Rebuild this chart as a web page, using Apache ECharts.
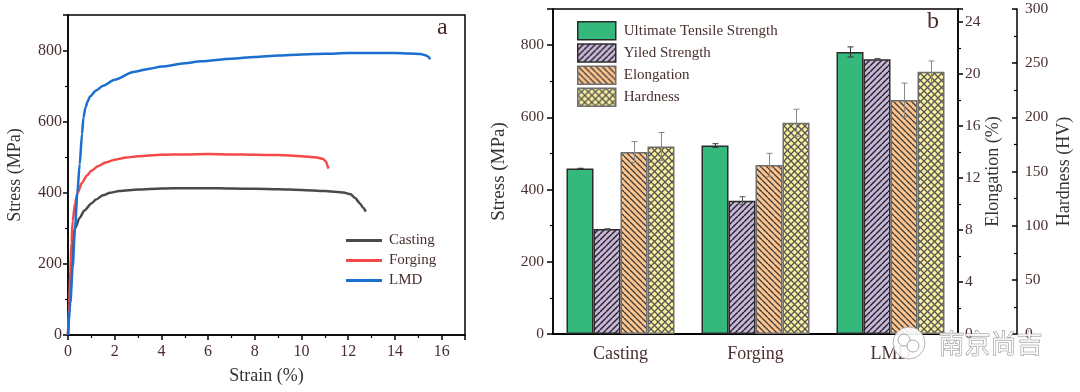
<!DOCTYPE html>
<html><head><meta charset="utf-8">
<script src="https://cdn.jsdelivr.net/npm/echarts@6/dist/echarts.min.js"></script>
<style>html,body{margin:0;padding:0;background:#fff}#c{width:1080px;height:392px}</style>
</head><body><div id="c"></div><script>
// ---- Panel a: stress-strain curves [strain %, stress MPa]
const castingCurve = [[0,0],[0.05,60],[0.1,140],[0.15,210],[0.2,260],[0.3,300],[0.5,330],[0.7,350],[1.0,370],[1.2,381],[1.5,393],[1.8,400],[2.2,405],[3,409],[4,412],[5,413],[6,413],[7,412],[8,411],[9,410],[10,408],[11,405],[11.8,401],[12.1,396],[12.3,385],[12.5,370],[12.65,357],[12.75,347]];
const forgingCurve = [[0,0],[0.05,90],[0.1,180],[0.15,260],[0.2,320],[0.3,370],[0.4,398],[0.6,428],[0.8,448],[1.0,462],[1.3,475],[1.6,485],[2,493],[2.5,499],[3,503],[4,507],[5,508],[6,509],[7,508],[8,507],[9,506],[10,503],[10.6,500],[10.9,496],[11.05,488],[11.1,478],[11.15,468]];
const lmdCurve = [[0,0],[0.1,90],[0.2,190],[0.3,300],[0.4,400],[0.5,480],[0.6,565],[0.66,611],[0.75,640],[0.85,658],[0.94,671],[1.2,688],[1.5,701],[2.0,718],[2.8,740],[3.5,749],[4,755],[5,764],[5.7,770],[7,777],[8,782],[9,786],[10,789],[11,791],[12,793],[13,793],[14,793],[14.6,792],[15.1,790],[15.3,787],[15.45,782],[15.5,775]];
const curveNames = ['Casting','Forging','LMD'];

// ---- Panel b: bar data
const categories = ['Casting','Forging','LMD'];
const barNames = ['Ultimate Tensile Strength','Yiled Strength','Elongation','Hardness'];
const utsValues = [458, 522, 781];
const utsErrors = [1, 5, 14];
const ysValues = [291, 369, 761];
const ysErrors = [0, 11, 2];
const elongValues = [14.0, 13.0, 18.0];
const elongErrors = [0.8, 0.9, 1.3];
const hardValues = [173, 195, 242];
const hardErrors = [13, 12.5, 10];

const serif = 'Liberation Serif';
const labelColor = '#4a2f2f';
const titleColor = '#333';

function makePattern(bg, color, dirs, size, lw) {
  const c = document.createElement('canvas'); c.width = size; c.height = size;
  const g = c.getContext('2d'); g.fillStyle = bg; g.fillRect(0, 0, size, size);
  g.strokeStyle = color; g.lineWidth = lw;
  dirs.forEach(d => {
    g.beginPath();
    for (const o of [-size, 0, size]) {
      if (d === '/') { g.moveTo(o, size); g.lineTo(o + size, 0); }
      else { g.moveTo(o, 0); g.lineTo(o + size, size); }
    }
    g.stroke();
  });
  return c;
}
const utsColor = '#34b87b';
const ysFill = {image: makePattern('#c8b6da', '#222', ['/'], 6, 1.4), repeat: 'repeat'};
const elFill = {image: makePattern('#fdc48e', '#3c3c3c', ['\\'], 6, 1.3), repeat: 'repeat'};
const hdFill = {image: makePattern('#fbf09c', '#555', ['/','\\'], 7, 1.3), repeat: 'repeat'};

function errorSeries(idx, values, errors, yAxisIndex, color) {
  return {
    type: 'custom', xAxisIndex: 1, yAxisIndex: yAxisIndex, z: 5, silent: true,
    data: values.map((v, i) => [i, v, errors[i]]),
    encode: {x: 0, y: 1},
    renderItem(params, api) {
      const i = api.value(0), v = api.value(1), e = api.value(2);
      const band = api.size([1, 0])[0];
      const bw = band * 0.8 / 4;
      const off = -band * 0.4 + (idx + 0.5) * bw;
      const top = api.coord([i, v + e]); const bot = api.coord([i, v - e]);
      const x = Math.round(top[0] + off) + 0.5;
      const hw = 3;
      const st = {stroke: color, lineWidth: 1};
      return {type: 'group', children: [
        {type: 'line', shape: {x1: x, y1: top[1], x2: x, y2: bot[1]}, style: st},
        {type: 'line', shape: {x1: x - hw, y1: top[1], x2: x + hw, y2: top[1]}, style: st},
        {type: 'line', shape: {x1: x - hw, y1: bot[1], x2: x + hw, y2: bot[1]}, style: st}
      ]};
    }
  };
}

function valAxis(o) {
  return Object.assign({
    type: 'value', splitLine: {show: false},
    axisLine: {show: true, lineStyle: {color: '#000', width: 1.5}},
    axisTick: {show: true, length: 5, lineStyle: {color: '#000', width: 1.5}},
    minorTick: {show: true, splitNumber: 2, length: 3, lineStyle: {color: '#000', width: 1.2}},
    axisLabel: {fontFamily: serif, color: labelColor, fontSize: 16, showMaxLabel: false},
    nameLocation: 'middle',
    nameTextStyle: {fontFamily: serif, color: titleColor, fontSize: 18}
  }, o);
}

const chart = echarts.init(document.getElementById('c'), null, {renderer: 'canvas'});
const barBase = {type: 'bar', xAxisIndex: 1, barGap: '0%', barCategoryGap: '20%'};
const lineBase = {type: 'line', xAxisIndex: 0, yAxisIndex: 0, symbol: 'none', smooth: 0.25, smoothMonotone: 'x'};
chart.setOption({
  animation: false,
  backgroundColor: '#fff',
  grid: [
    {left: 68, top: 15, width: 397, height: 320, show: true, borderColor: '#000', borderWidth: 1.5},
    {left: 553, top: 9, width: 405, height: 325, show: true, borderColor: '#000', borderWidth: 1.5}
  ],
  xAxis: [
    valAxis({gridIndex: 0, min: 0, max: 17, interval: 2, name: 'Strain (%)', nameGap: 32,
      axisLabel: {fontFamily: serif, color: labelColor, fontSize: 16, margin: 9, showMaxLabel: false}}),
    {type: 'category', gridIndex: 1, data: categories,
      axisLine: {lineStyle: {color: '#000', width: 2}}, axisTick: {show: false},
      axisLabel: {fontFamily: serif, color: labelColor, fontSize: 18, margin: 11}}
  ],
  yAxis: [
    valAxis({gridIndex: 0, min: 0, max: 900, interval: 200, name: 'Stress (MPa)', nameRotate: 90, nameGap: 44,
      axisLabel: {fontFamily: serif, color: labelColor, fontSize: 16, margin: 6, showMaxLabel: false}}),
    valAxis({gridIndex: 1, min: 0, max: 900, interval: 200, position: 'left', name: 'Stress (MPa)', nameRotate: 90, nameGap: 44,
      axisTick: {show: true, length: 6, lineStyle: {color: '#000', width: 1.5}},
      axisLabel: {fontFamily: serif, color: labelColor, fontSize: 15.5, margin: 9, showMaxLabel: false},
      nameTextStyle: {fontFamily: serif, color: titleColor, fontSize: 19}}),
    valAxis({gridIndex: 1, min: 0, max: 25, interval: 4, position: 'right', name: 'Elongation (%)', nameRotate: 90, nameGap: 26,
      axisLabel: {fontFamily: serif, color: labelColor, fontSize: 15.5, margin: 7, showMaxLabel: false}}),
    valAxis({gridIndex: 1, min: 0, max: 300, interval: 50, position: 'right', offset: 59, name: 'Hardness (HV)', nameRotate: 90, nameGap: 38,
      axisTick: {show: true, inside: true, length: 5, lineStyle: {color: '#000', width: 1.5}},
      minorTick: {show: true, splitNumber: 2, length: 3, lineStyle: {color: '#000', width: 1.2}},
      axisLabel: {fontFamily: serif, color: labelColor, fontSize: 15.5, margin: 8, showMaxLabel: true}})
  ],
  legend: [
    {orient: 'vertical', left: 346, top: 233, padding: 0, itemWidth: 36, itemHeight: 14, itemGap: 5,
      data: curveNames.map(n => ({name: n, icon: 'path://M0,0L36,0L36,3L0,3Z'})),
      textStyle: {fontFamily: serif, color: labelColor, fontSize: 15, padding: [0, 0, 0, 2]}},
    {orient: 'vertical', left: 577, top: 21, padding: 0, itemWidth: 38, itemHeight: 18, itemGap: 2.7,
      data: [
        {name: barNames[0], icon: 'rect', itemStyle: {borderColor: '#2b2b2b', borderWidth: 1.5}},
        {name: barNames[1], icon: 'rect', itemStyle: {borderColor: '#2b2b2b', borderWidth: 1.5}},
        {name: barNames[2], icon: 'rect', itemStyle: {borderColor: '#6e6e6e', borderWidth: 1.5}},
        {name: barNames[3], icon: 'rect', itemStyle: {borderColor: '#6e6e6e', borderWidth: 1.5}}
      ],
      textStyle: {fontFamily: serif, color: labelColor, fontSize: 15, padding: [0, 0, 0, 3]}}
  ],
  series: [
    Object.assign({name: curveNames[0], data: castingCurve, lineStyle: {color: '#4a4a4a', width: 2.5}, itemStyle: {color: '#4a4a4a'}}, lineBase),
    Object.assign({name: curveNames[1], data: forgingCurve, lineStyle: {color: '#f54848', width: 2.5}, itemStyle: {color: '#f54848'}}, lineBase),
    Object.assign({name: curveNames[2], data: lmdCurve, lineStyle: {color: '#1a6fcf', width: 2.5}, itemStyle: {color: '#1a6fcf'}}, lineBase),
    Object.assign({name: barNames[0], yAxisIndex: 1, data: utsValues, itemStyle: {color: utsColor, borderColor: '#2b2b2b', borderWidth: 1.5}}, barBase),
    Object.assign({name: barNames[1], yAxisIndex: 1, data: ysValues, itemStyle: {color: ysFill, borderColor: '#2b2b2b', borderWidth: 1.5}}, barBase),
    Object.assign({name: barNames[2], yAxisIndex: 2, data: elongValues, itemStyle: {color: elFill, borderColor: '#6e6e6e', borderWidth: 1.5}}, barBase),
    Object.assign({name: barNames[3], yAxisIndex: 3, data: hardValues, itemStyle: {color: hdFill, borderColor: '#6e6e6e', borderWidth: 1.5}}, barBase),
    errorSeries(0, utsValues, utsErrors, 1, '#333'),
    errorSeries(1, ysValues, ysErrors, 1, '#555'),
    errorSeries(2, elongValues, elongErrors, 2, '#888'),
    errorSeries(3, hardValues, hardErrors, 3, '#888')
  ],
  graphic: [
    {type: 'text', left: 437, top: 16, z: 100, style: {text: 'a', font: '24px "Liberation Serif"', fill: '#4a2a2a'}},
    {type: 'text', left: 927, top: 10, z: 100, style: {text: 'b', font: '24px "Liberation Serif"', fill: '#4a2a2a'}},
    {type: 'circle', z: 100, shape: {cx: 909, cy: 343, r: 16}, style: {fill: 'rgba(255,255,255,0.9)', stroke: '#b5b5b5', lineWidth: 1}},
    {type: 'circle', z: 101, shape: {cx: 904, cy: 340, r: 6}, style: {fill: 'none', stroke: '#aaa', lineWidth: 1}},
    {type: 'circle', z: 101, shape: {cx: 913, cy: 346, r: 6}, style: {fill: 'rgba(255,255,255,0.9)', stroke: '#aaa', lineWidth: 1}},
    {type: 'text', z: 100, left: 938, top: 330, style: {text: '南京尚吉', font: '26px "Noto Sans CJK SC"', fill: 'rgba(255,255,255,0.85)', stroke: '#8c8c8c', lineWidth: 1}}
  ]
});
</script></body></html>
